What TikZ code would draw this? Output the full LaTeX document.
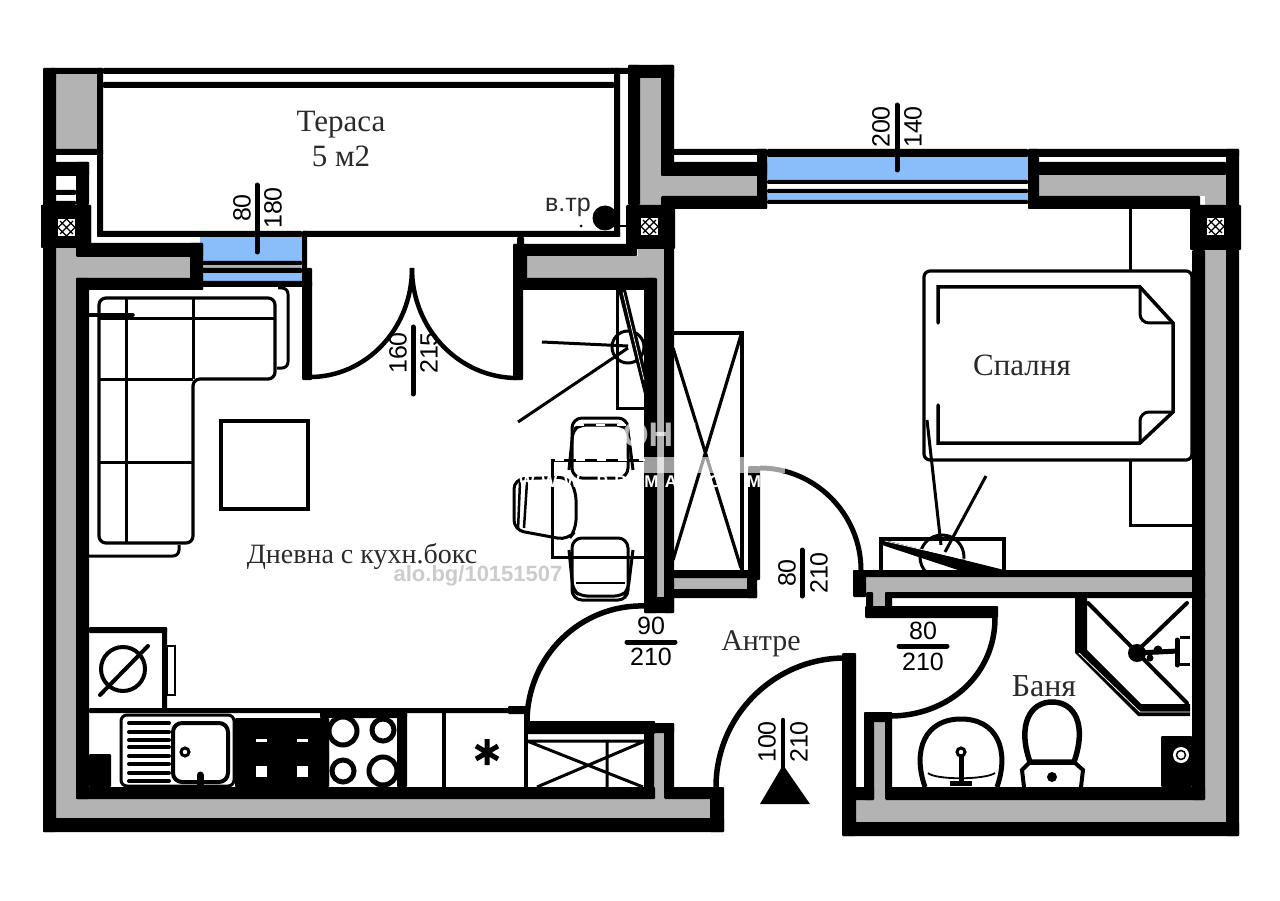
\documentclass[tikz,border=0pt]{standalone}
\usepackage{fontspec}
\setmainfont{Liberation Serif}
\setsansfont{Liberation Sans}
\usetikzlibrary{calc}
\definecolor{wallgrey}{HTML}{B3B3B3}
\definecolor{glass}{HTML}{8ABEFB}
\definecolor{labelink}{HTML}{2A2A2A}
\newcommand\bk[4]{\fill[black,rounded corners=1pt] (#1,#2) rectangle (#3,#4);}
\newcommand\gy[4]{\fill[wallgrey] (#1,#2) rectangle (#3,#4);}
\newcommand\bl[4]{\fill[glass] (#1,#2) rectangle (#3,#4);}
\newcommand\wh[4]{\fill[white] (#1,#2) rectangle (#3,#4);}
\newcommand\hatchsq[2]{\fill[white] (#1,#2) rectangle ++(17,17);
  \draw[black,line width=1.1pt] (#1+8.5,#2) -- (#1+17,#2+8.5) -- (#1+8.5,#2+17) -- (#1,#2+8.5) -- cycle
  (#1+2,#2+2) -- (#1+15,#2+15) (#1+15,#2+2) -- (#1+2,#2+15);}
\tikzset{
  thin3/.style={black,line width=3pt},
  thin4/.style={black,line width=4pt,line cap=round},
  doorarc/.style={black,line width=5.5pt},
  dimline/.style={black,line width=5pt,line cap=round},
  dimtext/.style={font=\sffamily\fontsize{25}{25}\selectfont,text=black,inner sep=0pt},
  roomtext/.style={font=\rmfamily\fontsize{31}{33}\selectfont,text=labelink,inner sep=0pt,align=center},
}
\begin{document}
\begin{tikzpicture}[x=1pt,y=-1pt]
\useasboundingbox (0,0) rectangle (1280,901);
\fill[white] (0,0) rectangle (1280,901);

% ---------- grey wall cores
\gy{56}{74}{97}{149}
\gy{56}{248}{76}{799}
\gy{56}{257}{190}{278}
\gy{56}{799}{710}{818}
\gy{654}{733}{664}{799}
\gy{527}{256}{664}{278}
\gy{638}{248}{664}{256}
\gy{657}{256}{664}{606}
\gy{640}{78}{661}{205}
\gy{661}{176}{757}{196}
\gy{664}{578}{747}{589}
\gy{1039}{175}{1226}{196}
\gy{1205}{196}{1226}{205}
\gy{1205}{250}{1226}{822}
\gy{866}{577}{1205}{592}
\gy{873}{592}{885}{607}
\gy{874}{722}{885}{800}
\gy{856}{800}{1226}{822}

% ---------- glazing
\bl{200}{237}{302}{261}
\bl{200}{273}{302}{281}
\fill[wallgrey] (200,265) rectangle (302,268);
\bl{767}{157}{1028}{180}
\bl{767}{193}{1028}{200}

% ---------- black wall faces: left & terrace
\bk{43}{68}{56}{832}
\bk{50}{68}{103}{74}
\bk{103}{68}{614}{74}
\bk{103}{82}{614}{88}
\bk{97}{68}{103}{237}
\bk{50}{149}{103}{155}
\bk{50}{162}{89}{176}
\bk{76}{162}{89}{205}
\bk{50}{190}{76}{195}
\bk{50}{201}{76}{205}
\bk{41}{205}{91}{248}
\bk{97}{231}{302}{237}
\bk{302}{231}{620}{237}
\bk{614}{68}{620}{237}
\bk{610}{68}{630}{74}
\bk{76}{243}{203}{257}
\bk{76}{278}{203}{290}
\bk{76}{278}{89}{799}
\bk{190}{243}{203}{290}
\bk{200}{261}{302}{265}
\bk{200}{268}{302}{273}
\bk{200}{281}{312}{287}
\bk{302}{231}{307}{270}
\bk{302}{268}{312}{380}

% ---------- right of balcony door
\bk{517}{237}{524}{245}
\bk{513}{244}{637}{256}
\bk{513}{244}{527}{290}
\bk{513}{278}{655}{290}
\bk{513}{282}{523}{380}
\bk{644}{278}{657}{613}
\bk{664}{248}{674}{613}
\bk{644}{597}{674}{613}

% ---------- centre column and hatch
\bk{628}{65}{640}{205}
\bk{628}{65}{674}{78}
\bk{661}{65}{674}{176}
\bk{661}{162}{767}{176}
\bk{661}{196}{767}{209}
\bk{673}{149}{767}{155}
\bk{757}{149}{767}{209}
\bk{626}{205}{675}{249}
\hatchsq{641}{218}
\bk{41}{205}{91}{248}
\hatchsq{58}{219}

% ---------- top right
\bk{767}{149}{1028}{157}
\bk{767}{180}{1028}{184}
\bk{767}{189}{1028}{193}
\bk{767}{200}{1028}{204}
\bk{1028}{149}{1039}{209}
\bk{1028}{149}{1239}{157}
\bk{1028}{162}{1226}{175}
\bk{1028}{196}{1200}{209}
\bk{1226}{149}{1239}{836}
\bk{1190}{205}{1241}{250}
\hatchsq{1207}{218}
\bk{1192}{250}{1205}{800}

% ---------- closet wing, partition
\bk{664}{570}{757}{578}
\bk{664}{589}{757}{598}
\bk{747}{570}{757}{598}
\bk{748}{466}{760}{580}
\bk{853}{570}{1205}{577}
\bk{853}{570}{866}{597}
\bk{866}{592}{873}{616}
\bk{885}{592}{1205}{598}
\bk{885}{592}{892}{610}
\bk{865}{606}{998}{618}

% ---------- bathroom & entrance walls
\bk{864}{712}{892}{722}
\bk{864}{712}{874}{800}
\bk{885}{712}{892}{798}
\bk{885}{787}{1205}{800}
\bk{842}{787}{874}{800}
\bk{842}{653}{856}{836}
\bk{842}{822}{1239}{836}

% ---------- bottom-left walls
\bk{76}{787}{655}{799}
\bk{43}{818}{724}{832}
\bk{664}{787}{723}{799}
\bk{710}{787}{724}{832}
\bk{527}{721}{655}{734}
\bk{644}{721}{654}{790}
\bk{664}{723}{674}{790}
\bk{644}{723}{674}{733}

% ---------- door arcs
\draw[doorarc] (527,722) .. controls (527,657) and (580,604) .. (645,606);
\draw[doorarc] (716,787) .. controls (716,716) and (774,658) .. (845,658);
\draw[doorarc,line width=5pt] (760,468) .. controls (815,468) and (861,514) .. (861,570);
\draw[doorarc] (995,618) .. controls (995,675) and (948,716) .. (890,716);
\draw[doorarc,line width=4.5pt] (310,377) .. controls (365,377) and (412,330) .. (412,268);
\draw[doorarc,line width=4.5pt] (517,378) .. controls (460,378) and (412,330) .. (412,268);

% ---------- sofa & table
\draw[thin3,line width=3.2pt,rounded corners=7pt] (99,298) -- (275,298) -- (275,379) -- (193,379) -- (193,543) -- (99,543) -- cycle;
\draw[thin3] (126,298) -- (126,543) (193,298) -- (193,379) (99,319) -- (275,319) (99,379) -- (193,379) (99,462) -- (193,462);
\draw[thin3,line width=3.5pt,line cap=round] (89,315) -- (133,315);
\draw[thin3,rounded corners=6pt] (278,288) -- (288,288) -- (288,368) -- (277,368);
\draw[thin3,rounded corners=6pt] (89,556) -- (179,556) -- (179,545);
\draw[thin3,line width=3.5pt] (221,421) rectangle (308,509);

% ---------- washer
\bk{89}{627}{167}{633}
\bk{162}{627}{167}{709}
\draw[thin3,line width=2.5pt] (167,646) rectangle (175,695);
\draw[black,line width=4pt] (123,669) circle[radius=22];
\draw[thin4] (100,695) -- (148,646);
\bk{89}{708}{525}{713}

% ---------- kitchen base
\bk{89}{754}{111}{787}
\draw[thin3,rounded corners=6pt] (121,715) rectangle (234,786);
\foreach \yy in {723,732,740,747,756,764,773,781} \draw[thin4] (129,\yy) -- (169,\yy);
\draw[thin4,rounded corners=9pt] (173,723) rectangle (228,782);
\draw[black,line width=3pt] (185,752) circle[radius=4];
\draw[black,line width=7pt,line cap=round] (200,775) -- (200,784);
\bk{235}{718}{329}{787}
\foreach \xx in {256,297} {\wh{\xx}{739}{\xx+11}{742} \wh{\xx}{766}{\xx+11}{777}}
\bk{320}{708}{407}{718}
\bk{320}{718}{329}{787}
\bk{397}{708}{407}{787}
\draw[black,line width=5pt] (343,731) circle[radius=14] (383,730) circle[radius=11] (343,771) circle[radius=11] (383,771) circle[radius=14];
\draw[thin3,line width=3.5pt] (444,713) -- (444,787) (526,713) -- (526,787);
\bk{508}{706}{527}{714}
\draw[black,line width=5pt] (487,739) -- (487,765) (476,746) -- (498,759) (476,759) -- (498,746);
\draw[thin3] (527,741) -- (647,741) (607,741) -- (607,787) (527,741) -- (643,787) (537,787) -- (645,741);

% ---------- wall-unit top right of lounge
\draw[thin3] (617,290) -- (617,408) -- (645,408);
\draw[thin3] (628,347) circle[radius=16];
\draw[thin3] (542,342) -- (628,346) (518,422) -- (628,348);
\fill[black] (618,290) -- (626,290) -- (646,372) -- (646,402) -- cycle;
\draw[white,line width=.7pt] (623,292) -- (644,380);

% ---------- dining table & chairs
\draw[thin3] (645,460) -- (552,460) -- (552,557) -- (645,557);
\draw[thin3,rounded corners=10pt,fill=none] (572,418) rectangle (628,478);
\draw[thin3,rounded corners=7pt] (569,470) -- (573,430) -- (580,425) -- (622,425) -- (628,430) -- (633,470);
\draw[thin3,rounded corners=10pt] (514,479) -- (568,477) -- (576,490) -- (576,530) -- (568,540) -- (514,530) -- cycle;
\draw[thin3,line width=2.5pt] (527,482) -- (524,528) (520,482) -- (518,530);
\draw[thin3,rounded corners=10pt] (572,538) rectangle (628,600);
\draw[thin3,rounded corners=7pt] (569,550) -- (573,590) -- (580,596) -- (622,596) -- (628,590) -- (633,550);
\draw[thin3,line width=2.5pt] (576,583) -- (625,583);

% ---------- closet
\draw[thin3,line width=3.2pt] (674,333) -- (742,333) -- (742,570);
\draw[thin3,line width=3.2pt] (673,348) -- (741,568) (741,335) -- (673,560);

% ---------- bed
\draw[thin3,line width=3.2pt,rounded corners=6pt] (924,271) rectangle (1192,460);
\draw[thin3,line width=3.5pt,line cap=round] (938,323) -- (938,287) -- (1140,287) -- (1173,323) -- (1173,412) -- (1140,443) -- (938,443) -- (938,405);
\draw[thin3,rounded corners=9pt] (1140,287) -- (1140,323) -- (1173,323);
\draw[thin3,rounded corners=9pt] (1173,412) -- (1140,412) -- (1140,443);
\draw[thin3] (1130,271) -- (1130,209) (1130,460) -- (1130,525) -- (1192,525);

% ---------- bedroom wall unit
\draw[thin3,line width=3.5pt] (881,570) -- (881,539) -- (1004,539) -- (1004,570);
\begin{scope}
\clip (880,530) rectangle (1006,570);
\draw[thin3] (942,557) circle[radius=22];
\end{scope}
\draw[thin3] (927,420) -- (941,545) (986,476) -- (945,552);
\fill[black] (880,539) -- (882,545) -- (958,570) -- (1004,570) -- cycle;
\draw[white,line width=.7pt] (885,541) -- (985,564);

% ---------- shower
\fill[black] (1075,598) -- (1075,653) -- (1138,716) -- (1190,716) -- (1190,704) -- (1141,704) -- (1087,650) -- (1087,598) -- cycle;
\draw[white,line width=.8pt] (1079,653) -- (1140,712) -- (1190,712);
\draw[thin4] (1088,603) -- (1187,703) (1187,603) -- (1135,653);
\fill[black] (1137,653) circle[radius=9];
\draw[black,line width=5pt] (1137,653) -- (1178,651);
\draw[black,line width=5pt,line cap=round] (1177,640) -- (1177,665);
\draw[black,line width=3pt] (1190,637) -- (1180,637) (1190,664) -- (1180,664);
\fill[black] (1158,650) circle[radius=4.5] (1150,658) circle[radius=3.5];

% ---------- riser
\bk{1161}{736}{1192}{787}
\fill[white] (1181,755) circle[radius=8];
\draw[black,line width=1.5pt] (1181,755) circle[radius=4.5];

% ---------- basin
\draw[black,line width=5pt,line cap=butt] (925,787) .. controls (912,750) and (925,719) .. (961,719) .. controls (997,719) and (1010,750) .. (997,787);
\draw[black,line width=1.8pt] (928,773) .. controls (935,780) and (985,780) .. (995,773);
\draw[black,line width=5pt] (961,755) -- (961,782);
\draw[black,line width=3pt,fill=white] (961,752) circle[radius=4];
\draw[black,line width=5pt] (950,783) -- (972,783);

% ---------- toilet
\draw[black,line width=5.5pt] (1030,762) .. controls (1017,725) and (1030,702) .. (1052,702) .. controls (1075,702) and (1087,725) .. (1074,762) -- cycle;
\draw[black,line width=4pt] (1024,787) -- (1022,770) -- (1030,762) -- (1074,762) -- (1083,770) -- (1081,787);
\fill[black] (1052,777) circle[radius=5];

% ---------- terrace drain
\fill[black] (605,218) circle[radius=12.5];
\draw[black,line width=1.5pt] (617,226) -- (628,226);
\fill[black] (581,226) circle[radius=1.5];

% ---------- dimension marks
\draw[dimline] (257,185) -- (257,252);
\draw[dimline] (897,105) -- (897,170);
\draw[dimline] (413,327) -- (413,394);
\draw[dimline] (802,550) -- (802,596);
\draw[dimline] (627,642) -- (675,642);
\draw[dimline] (899,646) -- (947,646);
\draw[dimline,line width=4.5pt] (783,720) -- (783,770);
\fill[black] (783,765) -- (760,804) -- (810,804) -- cycle;

\node[dimtext,rotate=90] (n80a) at (242,208) {80};
\node[dimtext,rotate=90] (n180) at (273,208) {180};
\node[dimtext,rotate=90] (n200) at (881,127) {200};
\node[dimtext,rotate=90] (n140) at (913,127) {140};
\node[dimtext,rotate=90] (n160) at (398,353) {160};
\node[dimtext,rotate=90] (n215) at (429,353) {215};
\node[dimtext,rotate=90] (n80b) at (787,573) {80};
\node[dimtext,rotate=90] (n210b) at (819,573) {210};
\node[dimtext] (n90) at (651,626) {90};
\node[dimtext] (n210c) at (651,657) {210};
\node[dimtext] (n80c) at (923,631) {80};
\node[dimtext] (n210d) at (923,662) {210};
\node[dimtext,rotate=90] (n100) at (767,742) {100};
\node[dimtext,rotate=90] (n210e) at (799,742) {210};

% ---------- room labels
\node[roomtext] (terr) at (341,125) {Тераса};
\node[roomtext] (terr2) at (341,156) {5 м2};
\node[roomtext] (spal) at (1022,365) {Спалня};
\node[roomtext,font=\rmfamily\fontsize{28}{30}\selectfont] (dnev) at (362,556) {Дневна с кухн.бокс};
\node[roomtext,font=\rmfamily\fontsize{30}{32}\selectfont] (antr) at (761,644) {Антре};
\node[roomtext,font=\rmfamily\fontsize{32}{34}\selectfont] (bany) at (1044,686) {Баня};
\node[font=\sffamily\fontsize{25}{25}\selectfont,text=labelink,inner sep=0pt] (vtr) at (568,207) {в.тр};

% ---------- watermark
\node[font=\sffamily\bfseries\fontsize{22}{22}\selectfont,text=black!20,inner sep=0pt] (wm) at (478,576) {alo.bg/10151507};
\draw[white,line width=2pt,dash pattern=on 9pt off 12pt] (555,460) -- (645,460) (575,425) -- (626,425);
\fill[white,opacity=.62] (643,457) rectangle (785,473);
\node[font=\sffamily\bfseries\fontsize{17}{17}\selectfont\addfontfeature{LetterSpace=38},text=white,inner sep=0pt] (wm2) at (640,482) {WWW.PRIMAT.COM};
\node[font=\sffamily\bfseries\fontsize{34}{34}\selectfont,text=white,opacity=.7,inner sep=0pt] (wm3) at (660,435) {ОНЯ};
\end{tikzpicture}
\end{document}
